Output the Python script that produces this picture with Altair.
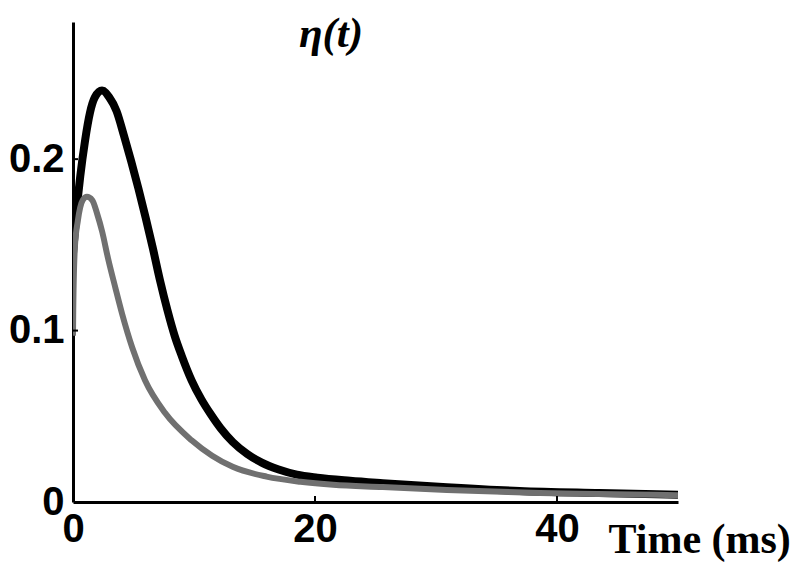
import altair as alt
import pandas as pd

# ---- data ----
t_black = [0, 0.3, 0.6, 1.0, 1.4, 1.8, 2.4, 3.0, 3.6, 4.2, 4.8, 5.4, 6.0, 6.6, 7.2, 7.8,
           8.4, 9.0, 9.8, 10.6, 11.4, 12.2, 13.2, 14.4, 15.6, 17.0, 18.5, 20.2, 22.9,
           25.6, 30.9, 36.9, 43.5, 50]
eta_black = [0.145, 0.170, 0.190, 0.211, 0.227, 0.236, 0.240, 0.236, 0.228, 0.214, 0.199,
             0.183, 0.166, 0.148, 0.129, 0.112, 0.097, 0.085, 0.071, 0.060, 0.051, 0.043,
             0.035, 0.028, 0.023, 0.019, 0.016, 0.0142, 0.0124, 0.011, 0.0086, 0.0064,
             0.0052, 0.0042]

t_gray = [0, 0.02, 0.15, 0.4, 0.8, 1.15, 1.6, 2.0, 2.4, 2.9, 3.5, 4.05, 4.9, 5.95, 7.6,
          9.8, 11.5, 13.2, 16.0, 18.8, 21.5, 25.6, 30.9, 38.6, 50]
eta_gray = [0.097, 0.112, 0.148, 0.164, 0.176, 0.178, 0.176, 0.168, 0.158, 0.142, 0.125,
            0.110, 0.090, 0.071, 0.052, 0.036, 0.027, 0.0205, 0.0148, 0.0118, 0.0100,
            0.0087, 0.007, 0.0052, 0.004]

x_ticks = [0, 20, 40]
y_ticks = [0, 0.1, 0.2]
inner_x_ticks = [20, 40]
inner_y_ticks = [0.1, 0.2]
title_text = ["η(t)"]
x_title = "Time (ms)"

W, H = 605, 480

black = pd.DataFrame({"t": t_black, "eta": eta_black})
gray = pd.DataFrame({"t": t_gray, "eta": eta_gray})

xs = alt.Scale(domain=[0, 50], nice=False, zero=False)
ys = alt.Scale(domain=[0, 0.28], nice=False)

x_axis = alt.Axis(values=x_ticks, title=x_title, labelFlush=False, labelOverlap=False,
                  labelFont="Liberation Sans", labelFontWeight="bold", labelFontSize=40,
                  labelColor="black", ticks=False, domainColor="black", domainWidth=3,
                  labelPadding=7, grid=False,
                  titleFont="Liberation Serif", titleFontSize=42, titleFontWeight="bold",
                  titleColor="black", titleX=535, titleY=50, titleAlign="left",
                  titleBaseline="alphabetic")
y_axis = alt.Axis(values=y_ticks, title=None, format="~g", labelOverlap=False,
                  labelFont="Liberation Sans", labelFontWeight="bold", labelFontSize=40,
                  labelColor="black", ticks=False, domainColor="black", domainWidth=3,
                  labelPadding=9, grid=False, labelBaseline="middle")

line_black = alt.Chart(black).mark_line(color="black", strokeWidth=8,
                                        interpolate="monotone", clip=True).encode(
    x=alt.X("t:Q", scale=xs, axis=x_axis),
    y=alt.Y("eta:Q", scale=ys, axis=y_axis),
)

line_gray = alt.Chart(gray).mark_line(color="#707070", strokeWidth=6,
                                      interpolate="monotone", clip=True).encode(
    x=alt.X("t:Q", scale=xs, axis=x_axis),
    y=alt.Y("eta:Q", scale=ys, axis=y_axis),
)

ytick_rules = alt.Chart(pd.DataFrame({"v": inner_y_ticks})).mark_rule(
    color="black", strokeWidth=2).encode(
    y=alt.Y("v:Q", scale=ys, axis=y_axis),
    x=alt.value(0), x2=alt.value(5),
)

xtick_rules = alt.Chart(pd.DataFrame({"v": inner_x_ticks})).mark_rule(
    color="black", strokeWidth=2).encode(
    x=alt.X("v:Q", scale=xs, axis=x_axis),
    y=alt.value(H), y2=alt.value(H - 6),
)

title = alt.Chart(pd.DataFrame({"label": title_text})).mark_text(
    font="Liberation Serif", fontSize=43, fontWeight="bold", fontStyle="italic",
    align="center", baseline="alphabetic", color="black").encode(
    text="label:N", x=alt.value(258), y=alt.value(25),
)

chart = alt.layer(line_black, line_gray, ytick_rules, xtick_rules, title).properties(
    width=W, height=H,
    autosize=alt.AutoSizeParams(type="none"),
    padding={"left": 65, "top": 14, "right": 112, "bottom": 62},
).configure_view(strokeWidth=0)

chart.save("out.html", embed_options={"renderer": "svg", "actions": False})
